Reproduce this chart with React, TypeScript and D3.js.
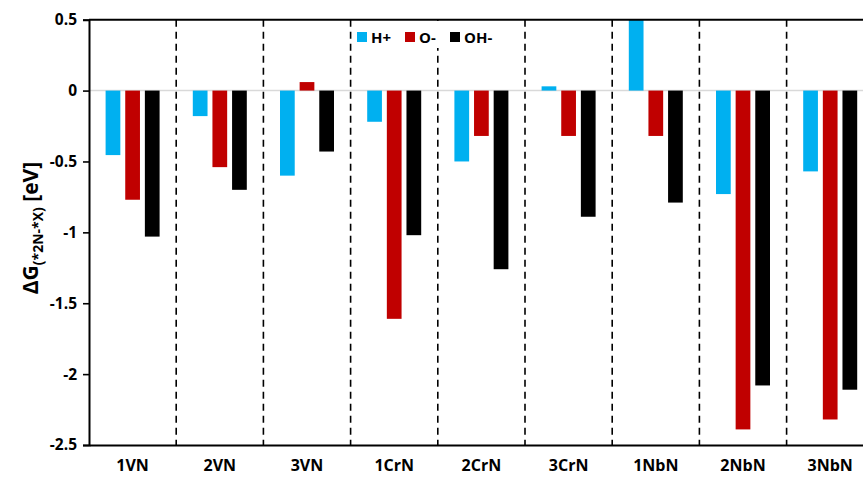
import React, { useEffect, useRef } from "react";
import * as d3 from "d3";

const categories = ["1VN", "2VN", "3VN", "1CrN", "2CrN", "3CrN", "1NbN", "2NbN", "3NbN"];
const seriesNames = ["H+", "O-", "OH-"];
const seriesColors = ["#00B0F0", "#C00000", "#000000"];
const hPlus = [-0.455, -0.18, -0.6, -0.22, -0.5, 0.03, 0.5, -0.73, -0.57];
const oMinus = [-0.77, -0.54, 0.06, -1.61, -0.32, -0.32, -0.32, -2.39, -2.32];
const ohMinus = [-1.03, -0.7, -0.43, -1.02, -1.26, -0.89, -0.79, -2.08, -2.11];
const yTicks = [0.5, 0, -0.5, -1, -1.5, -2, -2.5];

const FONT = "'Open Sans', 'Liberation Sans', sans-serif";

export default function App() {
  const ref = useRef<SVGSVGElement>(null);

  useEffect(() => {
    const svg = d3.select(ref.current);
    svg.selectAll("*").remove();

    const left = 89, top = 19.7, bottom = 445;
    const groupW = 87.2;
    const right = left + groupW * categories.length;

    const x = d3.scaleBand().domain(categories).range([left, right]).padding(0);
    const inner = d3.scaleBand().domain(seriesNames).range([16.6, 70.6]).paddingInner(0.25);
    const y = d3.scaleLinear().domain([-2.5, 0.5]).range([bottom, top]);

    const series = [hPlus, oMinus, ohMinus];

    // zero line
    svg.append("line")
      .attr("x1", left).attr("x2", right)
      .attr("y1", y(0)).attr("y2", y(0))
      .attr("stroke", "#d9d9d9").attr("stroke-width", 1.5);

    // bars
    series.forEach((vals, si) => {
      svg.append("g").selectAll("rect")
        .data(vals)
        .join("rect")
        .attr("x", (d, i) => (x(categories[i]) as number) + (inner(seriesNames[si]) as number))
        .attr("width", inner.bandwidth())
        .attr("y", d => y(Math.max(0, d)))
        .attr("height", d => Math.abs(y(d) - y(0)))
        .attr("fill", seriesColors[si]);
    });

    // dashed separators
    svg.append("g").selectAll("line")
      .data(categories.slice(1))
      .join("line")
      .attr("x1", d => x(d) as number).attr("x2", d => x(d) as number)
      .attr("y1", top).attr("y2", bottom)
      .attr("stroke", "#000").attr("stroke-width", 1.6)
      .attr("stroke-dasharray", "7,5");

    // legend
    const lg = svg.append("g").attr("transform", "translate(353,21)");
    lg.append("rect").attr("x", 0).attr("y", 0).attr("width", 168).attr("height", 27).attr("fill", "#fff");
    const legX = [4, 52, 97];
    seriesNames.forEach((s, i) => {
      lg.append("rect").attr("x", legX[i]).attr("y", 11).attr("width", 10).attr("height", 10).attr("fill", seriesColors[i]);
      lg.append("text").attr("x", legX[i] + 14).attr("y", 21.5)
        .attr("font-family", FONT).attr("font-weight", "bold").attr("font-size", 15)
        .text(s);
    });

    // frame
    svg.append("line").attr("x1", left).attr("x2", right).attr("y1", top).attr("y2", top)
      .attr("stroke", "#000").attr("stroke-width", 2);

    // y axis
    const ya = svg.append("g").attr("transform", `translate(${left},0)`)
      .call(d3.axisLeft(y).tickValues(yTicks).tickSize(6).tickFormat(d => String(d)));
    ya.select(".domain").attr("stroke-width", 2);
    ya.selectAll(".tick line").attr("stroke-width", 1.6);
    ya.selectAll(".tick text")
      .attr("font-family", FONT).attr("font-weight", "bold").attr("font-size", 15.5)
      .attr("x", -12).attr("fill", "#000");

    // x axis
    const xa = svg.append("g").attr("transform", `translate(0,${bottom})`)
      .call(d3.axisBottom(x).tickSize(0).tickPadding(15));
    xa.select(".domain").attr("stroke-width", 2);
    xa.selectAll(".tick text")
      .attr("font-family", FONT).attr("font-weight", "bold").attr("font-size", 16)
      .attr("fill", "#000");

    // y title
    const title = svg.append("text")
      .attr("transform", `translate(38,${228}) rotate(-90)`)
      .attr("text-anchor", "middle")
      .attr("font-family", FONT).attr("font-weight", "bold").attr("font-size", 21);
    title.append("tspan").text("ΔG");
    title.append("tspan").attr("font-size", 14).attr("dy", 5).text("(*2N-*X)");
    title.append("tspan").attr("dy", -5).text(" [eV]");
  }, []);

  return (
    <svg ref={ref} width={863} height={479}
      style={{ position: "absolute", left: 0, top: 0, background: "#fff" }} />
  );
}
